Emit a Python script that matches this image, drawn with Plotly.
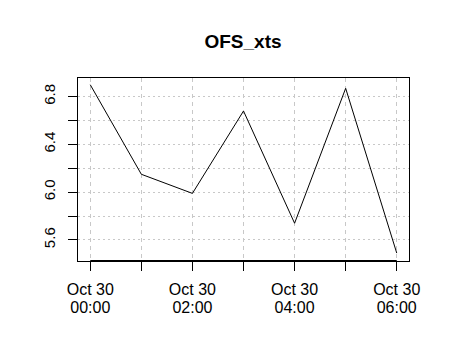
import plotly.graph_objects as go

times = ["2023-10-30 00:00", "2023-10-30 01:00", "2023-10-30 02:00", "2023-10-30 03:00",
         "2023-10-30 04:00", "2023-10-30 05:00", "2023-10-30 06:00"]
values = [6.90, 6.15, 5.99, 6.68, 5.74, 6.87, 5.49]
x_date_labels = ["Oct 30", "", "Oct 30", "", "Oct 30", "", "Oct 30"]
x_time_labels = ["00:00", "", "02:00", "", "04:00", "", "06:00"]
y_ticks = [5.6, 5.8, 6.0, 6.2, 6.4, 6.6, 6.8]
y_tick_labels = ["5.6", "", "6.0", "", "6.4", "", "6.8"]

font = "Liberation Sans, Arial, sans-serif"
x_range = ["2023-10-29 23:45:36", "2023-10-30 06:14:24"]

fig = go.Figure()
fig.add_trace(go.Scatter(x=times, y=values, mode="lines",
                         line=dict(color="black", width=1), showlegend=False,
                         hoverinfo="skip"))

fig.add_shape(type="line", xref="x", yref="paper", x0=times[0], x1=times[-1], y0=0, y1=0,
              line=dict(color="black", width=2))

fig.update_layout(
    width=450, height=359,
    margin=dict(l=78, r=41, t=78, b=98),
    paper_bgcolor="white", plot_bgcolor="white",
    font=dict(family=font, size=16, color="black"),
    title=dict(text="<b>OFS_xts</b>", x=243 / 450, xanchor="center",
               y=1 - 41 / 359, yanchor="middle", font=dict(size=19, family=font)),
    xaxis=dict(type="date", range=x_range,
               tickvals=times, ticktext=x_date_labels,
               ticks="outside", ticklen=9, tickcolor="black", tickwidth=1,
               showline=True, linecolor="black", linewidth=1, mirror=True,
               showgrid=True, gridcolor="#c8c8c8", griddash="4px,4px", gridwidth=1,
               zeroline=False, ticklabelstandoff=5),
    xaxis2=dict(type="date", range=x_range, overlaying="x", side="bottom",
                anchor="y", matches="x",
                tickvals=times, ticktext=x_time_labels,
                ticks="outside", ticklen=9, tickcolor="rgba(0,0,0,0)",
                showline=False, showgrid=False, zeroline=False,
                ticklabelstandoff=23),
    yaxis=dict(range=[5.4236, 6.9564], tickvals=y_ticks, ticktext=y_tick_labels,
               tickangle=-90, tickfont=dict(size=15),
               ticks="outside", ticklen=9, tickcolor="black", tickwidth=1,
               showline=True, linecolor="black", linewidth=1, mirror=True,
               showgrid=True, gridcolor="#c8c8c8", griddash="2px,3px", gridwidth=1,
               zeroline=False, ticklabelstandoff=7),
)

fig.add_trace(go.Scatter(x=[times[0]], y=[None], xaxis="x2", yaxis="y",
                         showlegend=False, hoverinfo="skip"))

fig.write_html("out.html")
